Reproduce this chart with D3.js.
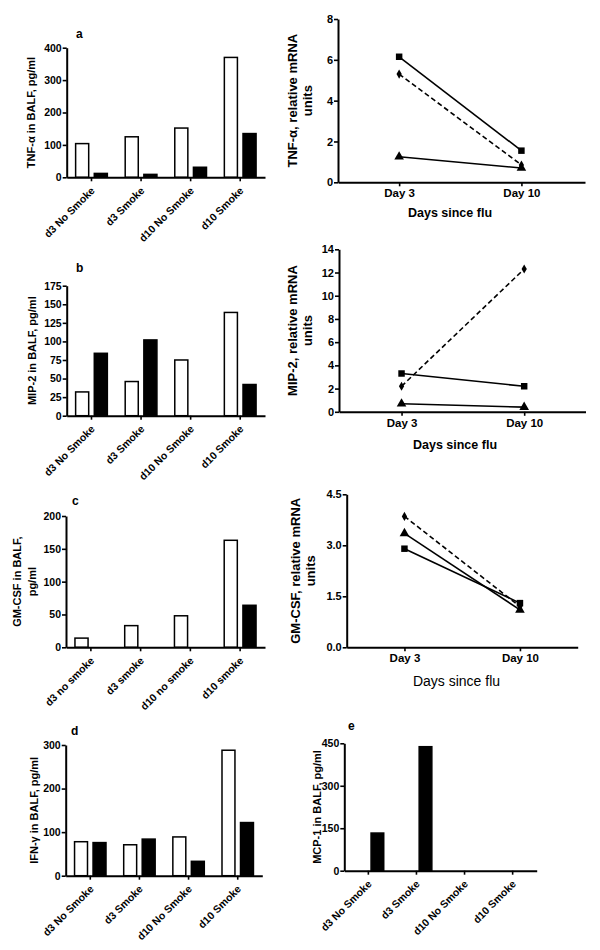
<!DOCTYPE html>
<html>
<head>
<meta charset="utf-8">
<script src="https://cdn.jsdelivr.net/npm/d3@7"></script>
<style>
  html, body { margin: 0; padding: 0; background: #fff; }
  svg { display: block; font-family: "Liberation Sans", Arial, Helvetica, sans-serif; }
</style>
</head>
<body>
<svg id="chart" width="600" height="950"></svg>
<script>
// ---------- DATA ----------
const catsUpper = ["d3 No Smoke", "d3 Smoke", "d10 No Smoke", "d10 Smoke"];
const catsLower = ["d3 no smoke", "d3 smoke", "d10 no smoke", "d10 smoke"];

const tnfWhite = [104, 125, 152, 370];
const tnfBlack = [12, 9, 31, 135];
const tnfTicks = [0, 100, 200, 300, 400];

const mip2White = [32, 46, 75, 139];
const mip2Black = [84, 102, 0, 42];
const mip2Ticks = [0, 25, 50, 75, 100, 125, 150, 175];

const gmcsfWhite = [14, 33, 48, 163];
const gmcsfBlack = [0, 0, 0, 64];
const gmcsfTicks = [0, 50, 100, 150, 200];

const ifngWhite = [78, 71, 89, 288];
const ifngBlack = [76, 84, 33, 122];
const ifngTicks = [0, 100, 200, 300];

const mcp1White = [null, null, null, null];
const mcp1Black = [133, 438, 0, 0];
const mcp1Ticks = [0, 150, 300, 450];

const days = ["Day 3", "Day 10"];
const tnfSquare = [6.15, 1.55];
const tnfDiamond = [5.3, 0.85];
const tnfTriangle = [1.25, 0.7];
const tnfMrnaTicks = [0, 2, 4, 6, 8];

const mip2Square = [3.3, 2.2];
const mip2Diamond = [2.2, 12.3];
const mip2Triangle = [0.7, 0.4];
const mip2MrnaTicks = [0, 2, 4, 6, 8, 10, 12, 14];

const gmSquare = [2.9, 1.3];
const gmDiamond = [3.85, 1.2];
const gmTriangle = [3.35, 1.1];
const gmMrnaTicks = [0, 1.5, 3.0, 4.5];

// ---------- DRAW ----------
const svg = d3.select("#chart");

function styleAxis(g, size) {
  g.select(".domain").attr("stroke", "#000").attr("stroke-width", 2);
  g.selectAll(".tick line").attr("stroke", "#000").attr("stroke-width", 1.6);
  g.selectAll(".tick text").attr("font-weight", "bold").attr("font-size", size).attr("fill", "#000");
}

function yTitle(x, y, lines, size, weight, gap) {
  const t = svg.append("g").attr("transform", `translate(${x},${y}) rotate(-90)`);
  lines.forEach((ln, i) => {
    t.append("text").attr("text-anchor", "middle")
      .attr("font-size", size).attr("font-weight", weight || "bold")
      .attr("y", i * gap).attr("dy", "0.35em").text(ln);
  });
}

function barPanel(o) {
  const x0 = d3.scaleBand().domain(o.cats).range([o.left, o.right]);
  const bw = x0.bandwidth();
  const x1 = d3.scaleBand().domain(["white", "black"]).range([bw * 0.18, bw * 0.82]).paddingInner(0.3);
  const y = d3.scaleLinear().domain([0, d3.max(o.ticks)]).range([o.bottom, o.top]);

  const g = svg.append("g");
  const rows = o.cats.map((c, i) => ({ c, white: o.white[i], black: o.black[i] }));

  g.selectAll("rect.w").data(rows.filter(d => d.white != null && d.white > 0)).join("rect")
    .attr("x", d => x0(d.c) + x1("white"))
    .attr("width", x1.bandwidth())
    .attr("y", d => y(d.white))
    .attr("height", d => y(0) - y(d.white))
    .attr("fill", "#fff").attr("stroke", "#000").attr("stroke-width", 1.5);
  g.selectAll("rect.b").data(rows.filter(d => d.black != null && d.black > 0)).join("rect")
    .attr("x", d => x0(d.c) + x1("black"))
    .attr("width", x1.bandwidth())
    .attr("y", d => y(d.black))
    .attr("height", d => y(0) - y(d.black))
    .attr("fill", "#000").attr("stroke", "#000").attr("stroke-width", 1.5);

  const ya = g.append("g").attr("transform", `translate(${o.left},0)`)
    .call(d3.axisLeft(y).tickValues(o.ticks).tickSize(4).tickSizeOuter(0).tickPadding(1));
  styleAxis(ya, 10.5);

  const xa = g.append("g").attr("transform", `translate(0,${o.bottom})`)
    .call(d3.axisBottom(x0).tickSize(4).tickSizeOuter(0));
  styleAxis(xa, 10.5);
  xa.selectAll(".tick text")
    .attr("text-anchor", "end")
    .attr("y", 0).attr("dy", 0)
    .attr("transform", "translate(4,14) rotate(-45)");

  svg.append("text").attr("x", o.labelX).attr("y", o.labelY).attr("dy", "0.35em")
    .attr("font-size", 12).attr("font-weight", "bold").text(o.label);

  yTitle(o.titleX, (o.top + o.bottom) / 2, o.title, 11, "bold", 15);
}

function linePanel(o) {
  const x = d3.scaleLinear().domain(o.xDomain).range([o.left, o.right]);
  const y = d3.scaleLinear().domain([0, d3.max(o.ticks)]).range([o.bottom, o.top]);
  const g = svg.append("g");

  const ya = g.append("g").attr("transform", `translate(${o.left},0)`)
    .call(d3.axisLeft(y).tickValues(o.ticks).tickSize(4).tickSizeOuter(0).tickPadding(1)
      .tickFormat(o.fmt || d3.format("d")));
  styleAxis(ya, 11);

  const xa = g.append("g").attr("transform", `translate(0,${o.bottom})`)
    .call(d3.axisBottom(x).tickValues(days.map((d, i) => i)).tickFormat(i => days[i])
      .tickSize(4).tickSizeOuter(0).tickPadding(3));
  styleAxis(xa, 11.5);

  const line = d3.line().x((d, i) => x(i)).y(d => y(d));
  const series = [
    { v: o.square, dash: null, sym: d3.symbolSquare, size: 42 },
    { v: o.diamond, dash: "5,3", sym: d3.symbolDiamond, size: 24 },
    { v: o.triangle, dash: null, sym: d3.symbolTriangle, size: 40 }
  ];
  series.forEach(s => {
    g.append("path").attr("d", line(s.v)).attr("fill", "none")
      .attr("stroke", "#000").attr("stroke-width", 1.6)
      .attr("stroke-dasharray", s.dash);
    g.selectAll(null).data(s.v).join("path")
      .attr("transform", (d, i) => `translate(${x(i)},${y(d)})`)
      .attr("d", d3.symbol().type(s.sym).size(s.size)())
      .attr("fill", "#000");
  });

  svg.append("text").attr("x", o.xTitleX).attr("y", o.xTitleY).attr("dy", "0.35em")
    .attr("text-anchor", "middle")
    .attr("font-size", o.xTitleSize).attr("font-weight", o.xTitleWeight)
    .text("Days since flu");

  yTitle(o.titleX, (o.top + o.bottom) / 2, o.title, 13, "bold", 15);
}

// Bar panels
barPanel({ cats: catsUpper, white: tnfWhite, black: tnfBlack, ticks: tnfTicks,
  left: 66.7, right: 265, top: 47.7, bottom: 177.3, label: "a", labelX: 76, labelY: 34,
  title: ["TNF-\u03b1 in BALF, pg/ml"], titleX: 31 });
barPanel({ cats: catsUpper, white: mip2White, black: mip2Black, ticks: mip2Ticks,
  left: 66.7, right: 265, top: 285.7, bottom: 415.7, label: "b", labelX: 76, labelY: 268,
  title: ["MIP-2 in BALF, pg/ml"], titleX: 32 });
barPanel({ cats: catsLower, white: gmcsfWhite, black: gmcsfBlack, ticks: gmcsfTicks,
  left: 66, right: 265, top: 516, bottom: 647.3, label: "c", labelX: 72, labelY: 501,
  title: ["GM-CSF in BALF,", "pg/ml"], titleX: 17 });
barPanel({ cats: catsUpper, white: ifngWhite, black: ifngBlack, ticks: ifngTicks,
  left: 65.7, right: 262.3, top: 745, bottom: 875.7, label: "d", labelX: 71, labelY: 731,
  title: ["IFN-\u03b3 in BALF, pg/ml"], titleX: 34 });
barPanel({ cats: catsUpper, white: mcp1White, black: mcp1Black, ticks: mcp1Ticks,
  left: 344.3, right: 536.7, top: 743.3, bottom: 870.7, label: "e", labelX: 348, labelY: 726,
  title: ["MCP-1 in BALF, pg/ml"], titleX: 317 });

// Line panels
linePanel({ square: tnfSquare, diamond: tnfDiamond, triangle: tnfTriangle, ticks: tnfMrnaTicks,
  left: 338, right: 585, top: 19, bottom: 182.3, xDomain: [-0.5, 1.52],
  xTitleX: 450, xTitleY: 213, xTitleSize: 12.5, xTitleWeight: "bold",
  title: ["TNF-\u03b1, relative mRNA", "units"], titleX: 292 });
linePanel({ square: mip2Square, diamond: mip2Diamond, triangle: mip2Triangle, ticks: mip2MrnaTicks,
  left: 339, right: 585.5, top: 249.3, bottom: 411.8, xDomain: [-0.51, 1.5],
  xTitleX: 455, xTitleY: 445, xTitleSize: 12.5, xTitleWeight: "bold",
  title: ["MIP-2, relative mRNA", "units"], titleX: 292 });
linePanel({ square: gmSquare, diamond: gmDiamond, triangle: gmTriangle, ticks: gmMrnaTicks,
  left: 346.7, right: 577.7, top: 494.3, bottom: 647.3, xDomain: [-0.5, 1.5], fmt: d3.format(".1f"),
  xTitleX: 456.5, xTitleY: 681.5, xTitleSize: 14, xTitleWeight: "normal",
  title: ["GM-CSF, relative mRNA", "units"], titleX: 295 });
</script>
</body>
</html>
